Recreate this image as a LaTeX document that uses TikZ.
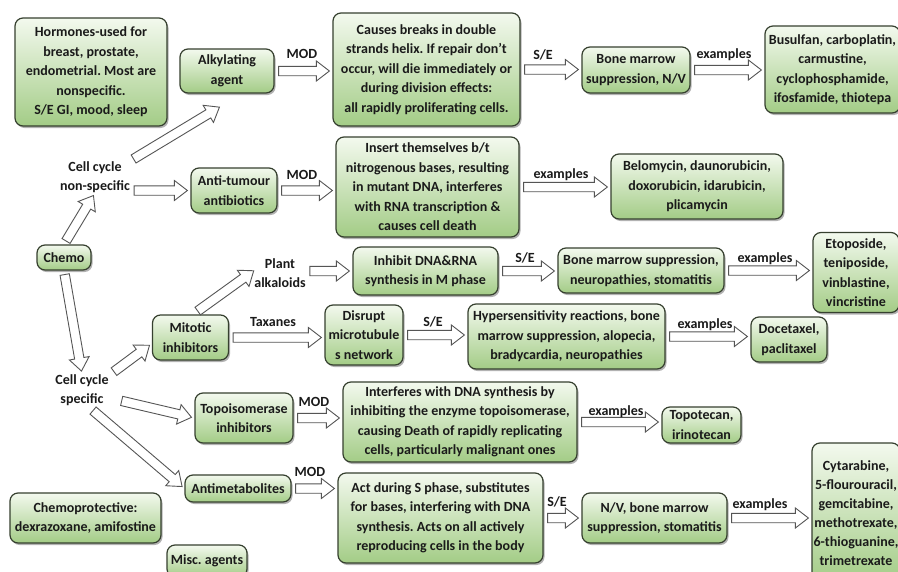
\documentclass[tikz,border=0pt]{standalone}
\usepackage{fontspec}
\setmainfont{Carlito}
\frenchspacing
\usetikzlibrary{calc,shadows}
\definecolor{boxtop}{HTML}{F3F9EE}
\definecolor{boxbot}{HTML}{A3CC86}
\definecolor{boxline}{HTML}{36402F}
\definecolor{txt}{HTML}{1A1A1A}
\definecolor{arrline}{HTML}{555555}
\tikzset{
  box/.style={draw=boxline, line width=1.2pt, rounded corners=8pt,
    top color=boxtop, bottom color=boxbot,
    drop shadow={shadow xshift=1.5pt, shadow yshift=-2pt, opacity=0.5, fill=black!60},
    align=center, text=txt, font=\fontsize{14}{19.5}\selectfont\bfseries\frenchspacing, inner sep=1pt},
  lbl/.style={text=txt, font=\fontsize{14}{19.5}\selectfont\bfseries, align=center, inner sep=0pt},
  blockarr/.style={draw=arrline, fill=white, line width=0.9pt, line join=miter},
}
\newcommand\barr[2]{%
  \coordinate (bt0) at (#1);
  \coordinate (bh0) at (#2);
  \coordinate (bt) at ($(bt0)!4pt!(bh0)$);
  \coordinate (bh) at ($(bh0)!3pt!(bt0)$);
  \coordinate (bm) at ($(bh)!13pt!(bt)$);
  \draw[blockarr] ($(bt)!4.7pt!90:(bh)$) -- ($(bm)!4.7pt!-90:(bt)$) -- ($(bm)!10pt!-90:(bt)$)
    -- (bh) -- ($(bm)!10pt!90:(bt)$) -- ($(bm)!4.7pt!90:(bt)$) -- ($(bt)!4.7pt!-90:(bh)$) -- cycle;
}
\begin{document}
\begin{tikzpicture}[x=1pt,y=-1pt]
\fill[white] (0,0) rectangle (898,571);
\useasboundingbox (0,0) rectangle (898,571);

% boxes
\node[box, minimum width=152, minimum height=108] (hor) at (91,72) {Hormones-used for\\breast, prostate,\\endometrial. Most are\\nonspecific.\\S/E GI, mood, sleep};
\node[box, minimum width=94, minimum height=44] (alk) at (227,71) {Alkylating\\agent};
\node[box, minimum width=187, minimum height=113] (cau) at (426.5,69.5) {Causes breaks in double\\strands helix. If repair don't\\occur, will die immediately or\\during division effects:\\all rapidly proliferating cells.};
\node[box, minimum width=108, minimum height=46] (bm1) at (636,70) {Bone marrow\\suppression, N/V};
\node[box, minimum width=135, minimum height=87] (bus) at (832.5,69.5) {Busulfan, carboplatin,\\carmustine,\\cyclophosphamide,\\ifosfamide, thiotepa};
\node[box, minimum width=86, minimum height=45] (ant) at (234,190.5) {Anti-tumour\\antibiotics};
\node[box, minimum width=183, minimum height=100] (ins) at (427.5,187) {Insert themselves b/t\\nitrogenous bases, resulting\\in mutant DNA, interferes\\with RNA transcription \&\\causes cell death};
\node[box, minimum width=172, minimum height=65] (bel) at (697,186.5) {Belomycin, daunorubicin,\\doxorubicin, idarubicin,\\plicamycin};
\node[box, minimum width=54, minimum height=25] (chemo) at (64,257.5) {Chemo};
\node[box, minimum width=145, minimum height=48] (inh) at (425.5,271) {Inhibit DNA\&RNA\\synthesis in M phase};
\node[box, minimum width=166, minimum height=45] (bm2) at (641,270.5) {Bone marrow suppression,\\neuropathies, stomatitis};
\node[box, minimum width=86, minimum height=80] (eto) at (856,272.5) {Etoposide,\\teniposide,\\vinblastine,\\vincristine};
\node[box, minimum width=76, minimum height=45] (mit) at (190.5,337.5) {Mitotic\\inhibitors};
\node[box, minimum width=78, minimum height=60] (dis) at (364,335) {Disrupt\\microtubule\\s network};
\node[box, minimum width=197, minimum height=65] (hyp) at (566.5,336.5) {Hypersensitivity reactions, bone\\marrow suppression, alopecia,\\bradycardia, neuropathies};
\node[box, minimum width=76, minimum height=45] (doc) at (789,339.5) {Docetaxel,\\paclitaxel};
\node[box, minimum width=98, minimum height=50] (top) at (244,418) {Topoisomerase\\inhibitors};
\node[box, minimum width=234, minimum height=80] (itf) at (460,422) {Interferes with DNA synthesis by\\inhibiting the enzyme topoisomerase,\\causing Death of rapidly replicating\\cells, particularly malignant ones};
\node[box, minimum width=79, minimum height=36] (topo) at (701.5,425) {Topotecan,\\irinotecan};
\node[box, minimum width=106, minimum height=27] (anm) at (238,488.5) {Antimetabolites};
\node[box, minimum width=205, minimum height=90] (act) at (440.5,518) {Act during S phase, substitutes\\for bases, interfering with DNA\\synthesis. Acts on all actively\\reproducing cells in the body};
\node[box, minimum width=145, minimum height=50] (nv) at (654.5,518) {N/V, bone marrow\\suppression, stomatitis};
\node[box, minimum width=88, minimum height=140, font=\fontsize{14}{19}\selectfont\bfseries] (cyt) at (856,513) {Cytarabine,\\5-flourouracil,\\gemcitabine,\\methotrexate,\\6-thioguanine,\\trimetrexate};
\node[box, minimum width=151, minimum height=50] (chp) at (85.5,518) {Chemoprotective:\\dexrazoxane, amifostine};
\node[box, minimum width=80, minimum height=32] (misc) at (207,561) {Misc. agents};

% plain text nodes
\node[lbl] (ccns) at (95,177) {Cell cycle\\non-specific};
\node[lbl] (ccs) at (82,390) {Cell cycle\\specific};
\node[lbl] (plant) at (280,273) {Plant\\alkaloids};

% block arrows
\barr{chemo.north}{ccns.south}
\barr{chemo.south}{ccs.north}
\barr{ccns.north east}{$(alk.south)+(-5,12)$}
\barr{ant.west -| ccns.east}{ant.west}
\barr{alk.east}{alk.east -| cau.west}
\barr{cau.east}{cau.east -| bm1.west}
\barr{bm1.east}{bm1.east -| bus.west}
\barr{ant.east}{ant.east -| ins.west}
\barr{ins.east}{ins.east -| bel.west}
\barr{$(mit.north)+(4,-1)$}{$(plant.west)+(2,-4)$}
\barr{inh.west -| plant.east}{inh.west}
\barr{inh.east}{inh.east -| bm2.west}
\barr{bm2.east}{bm2.east -| eto.west}
\barr{$(ccs.north east)+(2,0)$}{$(mit.west)+(0,6)$}
\barr{mit.east}{mit.east -| dis.west}
\barr{dis.east}{dis.east -| hyp.west}
\barr{hyp.east}{hyp.east -| doc.west}
\barr{$(ccs.east)+(9,10)$}{top.west}
\barr{$(ccs.south)+(8,2)$}{anm.west}
\barr{top.east}{top.east -| itf.west}
\barr{itf.east}{itf.east -| topo.west}
\barr{anm.east}{anm.east -| act.west}
\barr{act.east}{act.east -| nv.west}
\barr{nv.east}{nv.east -| cyt.west}

% arrow labels
\node[lbl] (m1) at (302,54) {MOD};
\node[lbl] (s1) at (543,55) {S/E};
\node[lbl] (e1) at (724,55) {examples};
\node[lbl] (m2) at (302,175) {MOD};
\node[lbl] (e2) at (561,175) {examples};
\node[lbl] (s2) at (525,258) {S/E};
\node[lbl] (e3) at (765,259) {examples};
\node[lbl] (tax) at (273,322) {Taxanes};
\node[lbl] (s3) at (433,322) {S/E};
\node[lbl] (e4) at (705,325) {examples};
\node[lbl] (m3) at (314,402) {MOD};
\node[lbl] (e5) at (616,412) {examples};
\node[lbl] (m4) at (310,472) {MOD};
\node[lbl] (s4) at (557,502) {S/E};
\node[lbl] (e6) at (760,505) {examples};
\end{tikzpicture}
\end{document}
